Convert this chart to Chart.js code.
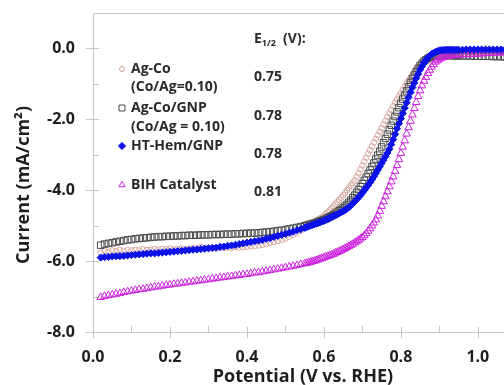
<!DOCTYPE html>
<html>
<head>
<meta charset="utf-8">
<script src="https://cdn.jsdelivr.net/npm/chart.js@4.4.1/dist/chart.umd.min.js"></script>
<style>
  html, body { margin: 0; padding: 0; background: #ffffff; overflow: hidden; }
  #wrap { width: 504px; height: 385px; position: relative; }
</style>
</head>
<body>
<div id="wrap"><canvas id="c" width="504" height="385"></canvas></div>
<script>
// ---------- DATA ----------
const potential = [
  0.02,0.03,0.04,0.05,0.06,0.07,0.08,0.09,0.10,0.11,
  0.12,0.13,0.14,0.15,0.16,0.17,0.18,0.19,0.20,0.21,
  0.22,0.23,0.24,0.25,0.26,0.27,0.28,0.29,0.30,0.31,
  0.32,0.33,0.34,0.35,0.36,0.37,0.38,0.39,0.40,0.41,
  0.42,0.43,0.44,0.45,0.46,0.47,0.48,0.49,0.50,0.51,
  0.52,0.53,0.54,
  0.550,0.555,0.560,0.565,0.570,0.575,0.580,0.585,0.590,0.595,
  0.600,0.605,0.610,0.615,0.620,0.625,0.630,0.635,0.640,0.645,
  0.650,0.655,0.660,0.665,0.670,0.675,0.680,0.685,0.690,0.695,
  0.700,0.705,0.710,0.715,0.720,0.725,0.730,0.735,0.740,0.745,
  0.750,0.755,0.760,0.765,0.770,0.775,0.780,0.785,0.790,0.795,
  0.800,0.805,0.810,0.815,0.820,0.825,0.830,0.835,0.840,0.845,
  0.850,0.855,0.860,0.865,0.870,0.875,0.880,0.885,0.890,0.895,
  0.900,0.905,0.910,0.915,0.920,0.925,0.930,0.935,0.940,0.945,
  0.950,
  0.96,0.97,0.98,0.99,1.00,1.01,1.02,1.03,1.04,1.05,1.06,1.07
];
const agCo = [
  -5.76,-5.72,-5.74,-5.70,-5.72,-5.68,-5.71,-5.69,-5.70,-5.68,
  -5.70,-5.67,-5.69,-5.68,-5.66,-5.68,-5.66,-5.67,-5.65,-5.67,
  -5.66,-5.64,-5.66,-5.65,-5.63,-5.65,-5.60,-5.64,-5.63,-5.62,
  -5.64,-5.62,-5.63,-5.61,-5.63,-5.60,-5.62,-5.60,-5.59,-5.58,
  -5.57,-5.56,-5.54,-5.52,-5.49,-5.46,-5.43,-5.40,-5.36,-5.31,
  -5.26,-5.20,-5.14,
  -5.07,-5.04,-5.00,-4.97,-4.93,-4.90,-4.86,-4.83,-4.79,-4.76,
  -4.72,-4.67,-4.62,-4.57,-4.51,-4.45,-4.39,-4.33,-4.27,-4.21,
  -4.14,-4.07,-4.00,-3.93,-3.86,-3.79,-3.72,-3.62,-3.52,-3.41,
  -3.30,-3.19,-3.08,-2.97,-2.87,-2.76,-2.65,-2.55,-2.45,-2.35,
  -2.25,-2.14,-2.04,-1.93,-1.83,-1.73,-1.63,-1.53,-1.44,-1.35,
  -1.26,-1.17,-1.08,-0.99,-0.91,-0.83,-0.76,-0.68,-0.60,-0.53,
  -0.47,-0.42,-0.37,-0.33,-0.29,-0.26,-0.23,-0.21,-0.19,-0.17,
  -0.16,-0.15,-0.14,-0.13,-0.13,-0.12,-0.12,-0.12,-0.12,-0.12,
  -0.12,
  -0.11,-0.11,-0.11,-0.11,-0.11,-0.10,-0.10,-0.10,-0.10,-0.10,-0.10,-0.10
];
const agCoGnp = [
  -5.55,-5.52,-5.50,-5.48,-5.46,-5.44,-5.42,-5.40,-5.39,-5.37,
  -5.36,-5.35,-5.34,-5.33,-5.32,-5.31,-5.31,-5.30,-5.30,-5.29,
  -5.29,-5.28,-5.28,-5.27,-5.27,-5.27,-5.26,-5.26,-5.26,-5.25,
  -5.25,-5.25,-5.24,-5.24,-5.24,-5.23,-5.23,-5.22,-5.22,-5.21,
  -5.21,-5.20,-5.19,-5.18,-5.17,-5.16,-5.14,-5.13,-5.11,-5.09,
  -5.07,-5.05,-5.03,
  -5.00,-4.99,-4.97,-4.96,-4.94,-4.93,-4.91,-4.89,-4.87,-4.85,
  -4.83,-4.81,-4.78,-4.75,-4.72,-4.69,-4.65,-4.62,-4.58,-4.54,
  -4.50,-4.45,-4.40,-4.34,-4.28,-4.21,-4.14,-4.06,-3.98,-3.90,
  -3.81,-3.72,-3.63,-3.53,-3.43,-3.33,-3.23,-3.12,-3.01,-2.90,
  -2.78,-2.66,-2.54,-2.42,-2.30,-2.17,-2.05,-1.92,-1.79,-1.67,
  -1.55,-1.43,-1.32,-1.20,-1.08,-0.96,-0.85,-0.75,-0.65,-0.56,
  -0.48,-0.42,-0.36,-0.32,-0.28,-0.25,-0.23,-0.22,-0.21,-0.20,
  -0.20,-0.20,-0.20,-0.20,-0.20,-0.20,-0.20,-0.20,-0.20,-0.21,
  -0.21,
  -0.21,-0.21,-0.21,-0.22,-0.22,-0.22,-0.22,-0.22,-0.23,-0.23,-0.23,-0.24
];
const htHemGnp = [
  -5.90,-5.89,-5.88,-5.87,-5.86,-5.86,-5.85,-5.84,-5.83,-5.82,
  -5.81,-5.80,-5.79,-5.78,-5.78,-5.77,-5.76,-5.75,-5.74,-5.73,
  -5.72,-5.71,-5.70,-5.69,-5.68,-5.67,-5.66,-5.65,-5.64,-5.63,
  -5.62,-5.60,-5.59,-5.57,-5.56,-5.54,-5.52,-5.50,-5.48,-5.46,
  -5.44,-5.42,-5.40,-5.37,-5.35,-5.32,-5.29,-5.26,-5.23,-5.20,
  -5.17,-5.13,-5.10,
  -5.06,-5.04,-5.02,-5.00,-4.98,-4.96,-4.94,-4.92,-4.90,-4.88,
  -4.86,-4.83,-4.81,-4.78,-4.76,-4.73,-4.71,-4.68,-4.65,-4.62,
  -4.59,-4.56,-4.52,-4.48,-4.43,-4.38,-4.32,-4.26,-4.20,-4.14,
  -4.07,-4.00,-3.93,-3.86,-3.78,-3.70,-3.61,-3.52,-3.43,-3.34,
  -3.24,-3.15,-3.05,-2.95,-2.84,-2.71,-2.57,-2.42,-2.26,-2.12,
  -1.98,-1.83,-1.68,-1.53,-1.38,-1.24,-1.10,-0.97,-0.84,-0.72,
  -0.60,-0.50,-0.40,-0.33,-0.26,-0.21,-0.16,-0.13,-0.10,-0.08,
  -0.06,-0.05,-0.05,-0.04,-0.04,-0.04,-0.04,-0.04,-0.04,-0.04,
  -0.04,
  -0.04,-0.03,-0.03,-0.03,-0.03,-0.03,-0.03,-0.03,-0.03,-0.03,-0.03,-0.03
];
const bihCatalyst = [
  -7.02,-6.99,-6.97,-6.95,-6.93,-6.91,-6.88,-6.86,-6.84,-6.82,
  -6.80,-6.79,-6.77,-6.75,-6.73,-6.72,-6.70,-6.68,-6.67,-6.65,
  -6.64,-6.62,-6.61,-6.59,-6.58,-6.56,-6.55,-6.53,-6.52,-6.50,
  -6.49,-6.47,-6.46,-6.44,-6.43,-6.41,-6.40,-6.38,-6.37,-6.35,
  -6.33,-6.32,-6.30,-6.28,-6.26,-6.24,-6.22,-6.20,-6.18,-6.16,
  -6.14,-6.12,-6.09,
  -6.07,-6.06,-6.04,-6.03,-6.01,-6.00,-5.98,-5.96,-5.94,-5.92,
  -5.90,-5.88,-5.86,-5.84,-5.82,-5.80,-5.77,-5.75,-5.72,-5.70,
  -5.67,-5.64,-5.61,-5.58,-5.55,-5.52,-5.48,-5.45,-5.41,-5.37,
  -5.33,-5.28,-5.22,-5.15,-5.08,-5.00,-4.92,-4.83,-4.72,-4.59,
  -4.45,-4.32,-4.18,-4.04,-3.90,-3.76,-3.62,-3.46,-3.30,-3.13,
  -2.96,-2.78,-2.60,-2.41,-2.23,-2.05,-1.87,-1.69,-1.52,-1.35,
  -1.19,-1.05,-0.92,-0.81,-0.70,-0.61,-0.52,-0.45,-0.38,-0.34,
  -0.30,-0.27,-0.25,-0.23,-0.22,-0.21,-0.20,-0.20,-0.19,-0.19,
  -0.18,
  -0.17,-0.17,-0.16,-0.16,-0.15,-0.15,-0.14,-0.14,-0.13,-0.13,-0.12,-0.12
];
const xMajorTicks = [0.0, 0.2, 0.4, 0.6, 0.8, 1.0];
const xMinorTicks = [0.1, 0.3, 0.5, 0.7, 0.9];
const yMajorTicks = [0, -2, -4, -6, -8];
const yMinorTicks = [-1, -3, -5, -7];
const legendLines = [
  ["Ag-Co", "(Co/Ag=0.10)"],
  ["Ag-Co/GNP", "(Co/Ag = 0.10)"],
  ["HT-Hem/GNP"],
  ["BIH Catalyst"]
];
const halfWaveValues = ["0.75", "0.78", "0.78", "0.81"];
const xTitle = "Potential (V vs. RHE)";
const yTitle = "Current (mA/cm\u00B2)";

// ---------- STYLE ----------
const FONT = "'Open Sans', 'DejaVu Sans', sans-serif";
const series = [
  { label: "Ag-Co (Co/Ag=0.10)", values: agCo, style: 'circle', radius: 2.8, color: '#d7a89f', fill: 'rgba(255,255,255,0)', order: 3 },
  { label: "Ag-Co/GNP (Co/Ag = 0.10)", values: agCoGnp, style: 'rect', radius: 4.6, color: '#4a4a4a', fill: 'rgba(255,255,255,0)', order: 2 },
  { label: "HT-Hem/GNP", values: htHemGnp, style: 'rectRot', radius: 3.6, color: '#0b12e8', fill: '#0b12e8', order: 0 },
  { label: "BIH Catalyst", values: bihCatalyst, style: 'triangle', radius: 4.4, color: '#cc22dd', fill: 'rgba(255,255,255,0)', order: 1 }
];

const datasets = series.map(s => ({
  label: s.label,
  data: potential.map((p, i) => ({ x: p, y: s.values[i] })),
  showLine: false,
  pointStyle: s.style,
  pointRadius: s.radius,
  pointBorderWidth: 1,
  pointBorderColor: s.color,
  pointBackgroundColor: s.fill,
  borderColor: s.color,
  backgroundColor: s.fill,
  order: s.order
}));

const AXIS = '#c6c6c6';

function drawMarker(ctx, style, x, y, r, color, fill) {
  ctx.save();
  ctx.strokeStyle = color; ctx.fillStyle = fill; ctx.lineWidth = 1;
  ctx.beginPath();
  if (style === 'circle') {
    ctx.arc(x, y, r, 0, Math.PI * 2);
  } else if (style === 'rect') {
    const s = r * Math.SQRT1_2;
    ctx.rect(x - s, y - s, 2 * s, 2 * s);
  } else if (style === 'rectRot') {
    ctx.moveTo(x, y - r); ctx.lineTo(x + r, y); ctx.lineTo(x, y + r); ctx.lineTo(x - r, y); ctx.closePath();
  } else if (style === 'triangle') {
    const a = r * 0.866;
    ctx.moveTo(x, y - r); ctx.lineTo(x + a, y + r / 2); ctx.lineTo(x - a, y + r / 2); ctx.closePath();
  }
  ctx.fill(); ctx.stroke();
  ctx.restore();
}

const decor = {
  id: 'decor',
  beforeDatasetsDraw(chart) {
    const { ctx, chartArea: a, scales: { x, y } } = chart;
    ctx.save();
    ctx.strokeStyle = AXIS; ctx.lineWidth = 1;
    ctx.beginPath();
    ctx.moveTo(a.left, Math.round(a.top) + 0.5); ctx.lineTo(a.right, Math.round(a.top) + 0.5);
    xMajorTicks.forEach(v => {
      const px = Math.round(x.getPixelForValue(v)) + 0.5;
      ctx.moveTo(px, a.bottom - 5); ctx.lineTo(px, a.bottom + 6);
    });
    xMinorTicks.forEach(v => {
      const px = Math.round(x.getPixelForValue(v)) + 0.5;
      ctx.moveTo(px, a.bottom - 6); ctx.lineTo(px, a.bottom);
    });
    yMajorTicks.forEach(v => {
      const py = Math.round(y.getPixelForValue(v)) + 0.5;
      ctx.moveTo(a.left - 7, py); ctx.lineTo(a.left + 6, py);
    });
    yMinorTicks.forEach(v => {
      const py = Math.round(y.getPixelForValue(v)) + 0.5;
      ctx.moveTo(a.left, py); ctx.lineTo(a.left + 6, py);
    });
    ctx.stroke();
    ctx.restore();
  },
  afterDraw(chart) {
    const { ctx } = chart;
    ctx.save();
    ctx.fillStyle = '#1e1e1e';
    // axis titles
    ctx.font = "bold 18px " + FONT;
    ctx.textAlign = 'center'; ctx.textBaseline = 'middle';
    ctx.fillText(xTitle, 303, 377);
    ctx.save();
    ctx.translate(24, 185); ctx.rotate(-Math.PI / 2);
    ctx.fillText(yTitle, 0, 0);
    ctx.restore();

    // legend
    ctx.textAlign = 'left';
    ctx.font = "bold 14px " + FONT;
    ctx.fillStyle = '#2a2a2a';
    const rows = [[69, 87], [108, 127], [146], [185]];
    legendLines.forEach((lines, i) => {
      const s = series[i];
      drawMarker(ctx, s.style, 122, rows[i][0], s.style === 'rect' ? 4.2 : (s.style === 'circle' ? 2.6 : 3.6), s.color, s.style === 'rectRot' ? s.fill : '#ffffff');
      lines.forEach((t, j) => ctx.fillText(t, 131, rows[i][j]));
    });
    // E1/2 header
    ctx.fillText("E", 254, 39);
    const eW = ctx.measureText("E").width;
    ctx.font = "bold 9px " + FONT;
    ctx.fillText("1/2", 254 + eW, 43);
    const sW = ctx.measureText("1/2").width;
    ctx.font = "bold 14px " + FONT;
    ctx.fillText("  (V):", 254 + eW + sW, 39);
    const valY = [77, 116, 154, 192];
    halfWaveValues.forEach((v, i) => ctx.fillText(v, 254, valY[i]));
    ctx.restore();
  }
};

new Chart(document.getElementById('c'), {
  type: 'scatter',
  data: { datasets },
  options: {
    responsive: false,
    animation: false,
    events: [],
    layout: { autoPadding: false, padding: { top: 13, right: 0, left: 0, bottom: 0 } },
    plugins: { legend: { display: false }, tooltip: { enabled: false } },
    scales: {
      x: {
        type: 'linear', min: 0, max: 1.068,
        grid: { display: false, drawTicks: false },
        border: { display: true, color: AXIS, width: 1 },
        ticks: {
          stepSize: 0.2, includeBounds: false, padding: 16,
          color: '#1e1e1e', font: { family: FONT, size: 16, weight: 'bold' },
          callback: v => Number(v).toFixed(1)
        },
        afterFit: s => { s.height = 53; s.paddingLeft = 0; s.paddingRight = 0; }
      },
      y: {
        type: 'linear', min: -8, max: 1,
        grid: { display: false, drawTicks: false },
        border: { display: true, color: AXIS, width: 1 },
        ticks: {
          stepSize: 2, includeBounds: false, padding: 18,
          color: '#1e1e1e', font: { family: FONT, size: 16, weight: 'bold' },
          callback: v => (Math.abs(v % 2) < 1e-9 ? (Math.abs(v) < 1e-9 ? "0.0" : Number(v).toFixed(1)) : '')
        },
        afterFit: s => { s.width = 93; s.paddingTop = 0; s.paddingBottom = 0; }
      }
    }
  },
  plugins: [decor]
});
</script>
</body>
</html>
